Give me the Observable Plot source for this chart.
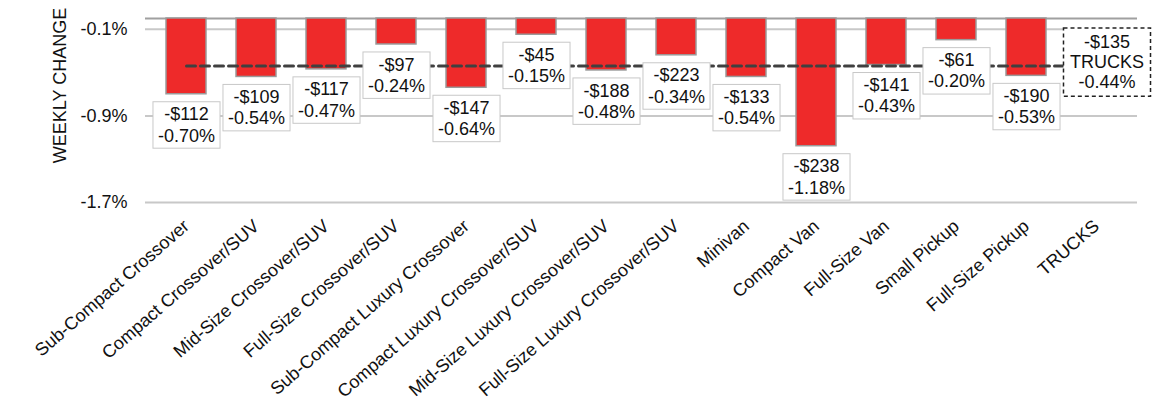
<!DOCTYPE html>
<html>
<head>
<meta charset="utf-8">
<script src="https://cdn.jsdelivr.net/npm/d3@7"></script>
<script src="https://cdn.jsdelivr.net/npm/@observablehq/plot@0.6"></script>
<style>
  html, body { margin: 0; padding: 0; background: #fff; }
  #chart svg { display: block; }
</style>
</head>
<body>
<div id="chart"></div>
<script>
// ---- data ----
const categories = [
  "Sub-Compact Crossover", "Compact Crossover/SUV", "Mid-Size Crossover/SUV",
  "Full-Size Crossover/SUV", "Sub-Compact Luxury Crossover", "Compact Luxury Crossover/SUV",
  "Mid-Size Luxury Crossover/SUV", "Full-Size Luxury Crossover/SUV", "Minivan",
  "Compact Van", "Full-Size Van", "Small Pickup", "Full-Size Pickup", "TRUCKS"
];
const pctChange = [-0.70, -0.54, -0.47, -0.24, -0.64, -0.15, -0.48, -0.34, -0.54, -1.18, -0.43, -0.20, -0.53];
const dollarChange = [-112, -109, -117, -97, -147, -45, -188, -223, -133, -238, -141, -61, -190];
const trucksPct = -0.44;
const trucksDollar = -135;
const yTicks = [-1.7, -0.9, -0.1];

const rows = pctChange.map((p, i) => ({category: categories[i], pct: p, dollar: dollarChange[i]}));
const fmtDollar = d => `-$${Math.abs(d)}`;
const fmtPct = p => `${p.toFixed(2)}%`;

const chart = Plot.plot({
  width: 1163,
  height: 412,
  marginLeft: 145,
  marginRight: 26,
  marginTop: 18,
  marginBottom: 210,
  style: {fontFamily: "'Liberation Sans', Arial, sans-serif", fontSize: "18px", color: "#111", background: "#fff"},
  x: {domain: categories, paddingInner: 0.435, paddingOuter: 0.2175, axis: null},
  y: {domain: [-1.7, 0], axis: null},
  marks: [
    Plot.ruleY(yTicks, {stroke: "#c8c8c8", strokeWidth: 2}),
    Plot.ruleY([0], {stroke: "#a0a0a0", strokeWidth: 2}),
    Plot.barY(rows, {x: "category", y: "pct", fill: "#ee2a2a", stroke: "#9a9a9a", strokeWidth: 1.5}),
    Plot.lineY(categories, {x: d => d, y: () => trucksPct, stroke: "#404040", strokeWidth: 3, strokeDasharray: "9,5"}),
    Plot.text(rows, {
      x: "category", y: "pct",
      text: d => `${fmtDollar(d.dollar)}\n${fmtPct(d.pct)}`,
      lineAnchor: "top", dy: 11, lineHeight: 1.18, fill: "#111"
    }),
    Plot.text([{category: "TRUCKS"}], {
      x: "category", y: () => trucksPct,
      text: () => `${fmtDollar(trucksDollar)}\nTRUCKS\n${fmtPct(trucksPct)}`,
      lineAnchor: "middle", dx: 10.5, dy: -4.5, lineHeight: 1.12, fill: "#111"
    }),
    Plot.axisY({ticks: yTicks, tickFormat: d => `${d.toFixed(1)}%`, tickSize: 0, tickPadding: 18, label: null, fill: "#111"}),
    Plot.text(categories, {
      x: d => d, frameAnchor: "bottom", text: d => d,
      rotate: -41, textAnchor: "end", lineAnchor: "middle", dy: 21, fill: "#111"
    }),
    Plot.text(["WEEKLY CHANGE"], {
      frameAnchor: "left", text: d => d, rotate: -90,
      textAnchor: "middle", lineAnchor: "middle", dx: -85, dy: -25, fill: "#111"
    })
  ]
});
document.getElementById("chart").append(chart);

function addBoxes(g, padX, padY, stroke, dash, sw) {
  if (!g) return;
  Array.from(g.querySelectorAll("text")).forEach(t => {
    const b = t.getBBox();
    const r = document.createElementNS("http://www.w3.org/2000/svg", "rect");
    r.setAttribute("x", b.x - padX);
    r.setAttribute("y", b.y - padY);
    r.setAttribute("width", b.width + 2 * padX);
    r.setAttribute("height", b.height + 2 * padY);
    r.setAttribute("fill", "#fff");
    r.setAttribute("stroke", stroke);
    r.setAttribute("stroke-width", sw);
    if (dash) r.setAttribute("stroke-dasharray", dash);
    const tr = t.getAttribute("transform");
    if (tr) r.setAttribute("transform", tr);
    t.parentNode.insertBefore(r, t);
  });
}
const textGroups = Array.from(chart.querySelectorAll("g")).filter(g => {
  const ts = g.querySelectorAll(":scope > text");
  return ts.length > 0;
});
const valueGroup = textGroups.find(g => g.textContent.includes("-$112"));
const trucksGroup = textGroups.find(g => g.textContent.includes("-$135"));
addBoxes(valueGroup, 5, 2.6, "#c8c8c8", null, 1);
addBoxes(trucksGroup, 6.5, 4, "#222", "4,3", 1.5);
</script>
</body>
</html>
